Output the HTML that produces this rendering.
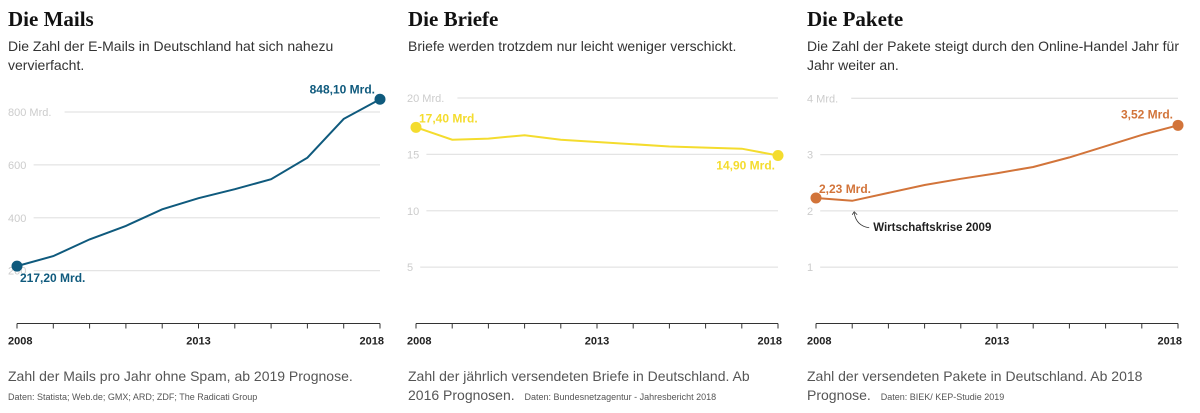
<!DOCTYPE html>
<html><head><meta charset="utf-8"><style>
body{margin:0;background:#fff;width:1200px;height:413px;overflow:hidden}
svg{display:block}
.t{font-family:"Liberation Serif",serif;font-weight:bold;font-size:21px;fill:#111}
.s{font-family:"Liberation Sans",sans-serif;font-size:14px;fill:#333}
.f{font-family:"Liberation Sans",sans-serif;font-size:14px;fill:#555}
.src{font-family:"Liberation Sans",sans-serif;font-size:9px;fill:#555}
.yl{font-family:"Liberation Sans",sans-serif;font-size:11px;fill:#ccc}
.xl{font-family:"Liberation Sans",sans-serif;font-size:11px;font-weight:bold;fill:#222}
.vl{font-family:"Liberation Sans",sans-serif;font-size:12px;font-weight:bold}
</style></head><body>
<svg id="c" width="1200" height="413">
<text class="t" x="8" y="26">Die Mails</text>
<text class="s" x="8" y="51">Die Zahl der E-Mails in Deutschland hat sich nahezu</text>
<text class="s" x="8" y="70">vervierfacht.</text>
<text class="t" x="408" y="26">Die Briefe</text>
<text class="s" x="408" y="51">Briefe werden trotzdem nur leicht weniger verschickt.</text>
<text class="t" x="807" y="26">Die Pakete</text>
<text class="s" x="807" y="51">Die Zahl der Pakete steigt durch den Online-Handel Jahr für</text>
<text class="s" x="807" y="70">Jahr weiter an.</text>
<text class="f" x="8" y="381">Zahl der Mails pro Jahr ohne Spam, ab 2019 Prognose.</text>
<text class="src" x="8" y="400">Daten: Statista; Web.de; GMX; ARD; ZDF; The Radicati Group</text>
<text class="f" x="408" y="381">Zahl der jährlich versendeten Briefe in Deutschland. Ab</text>
<text class="f" x="408" y="400">2016 Prognosen. <tspan class="src" dx="6">Daten: Bundesnetzagentur - Jahresbericht 2018</tspan></text>
<text class="f" x="807" y="381">Zahl der versendeten Pakete in Deutschland. Ab 2018</text>
<text class="f" x="807" y="400">Prognose. <tspan class="src" dx="6">Daten: BIEK/ KEP-Studie 2019</tspan></text>
</svg>
<script>
const years=[2008,2009,2010,2011,2012,2013,2014,2015,2016,2017,2018];
const xTickLabels=["2008","2013","2018"];
const mailsValues=[217.2,255,318,369,432,474,508,546,627,774,848.1];
const mailsTicks=[200,400,600,800];
const mailsTickLabels=["200","400","600","800 Mrd."];
const mailsLabels=["217,20 Mrd.","848,10 Mrd."];
const briefeValues=[17.4,16.3,16.4,16.7,16.3,16.1,15.9,15.7,15.6,15.5,14.9];
const briefeTicks=[5,10,15,20];
const briefeTickLabels=["5","10","15","20 Mrd."];
const briefeLabels=["17,40 Mrd.","14,90 Mrd."];
const paketeValues=[2.23,2.18,2.32,2.46,2.57,2.67,2.78,2.95,3.15,3.35,3.52];
const paketeTicks=[1,2,3,4];
const paketeTickLabels=["1","2","3","4 Mrd."];
const paketeLabels=["2,23 Mrd.","3,52 Mrd."];
const svg=document.getElementById('c');
const NS='http://www.w3.org/2000/svg';
function mk(tag,a,txt){const e=document.createElementNS(NS,tag);for(const k in a)e.setAttribute(k,a[k]);if(txt!==undefined)e.textContent=txt;svg.appendChild(e);return e;}
function panel(p,x0,x1,yTop,maxV,vals,ticks,tickLabels,labels,color,lblPos){
  const y0=323.5;
  const xs=i=>x0+(x1-x0)*(years[i]-years[0])/(years[years.length-1]-years[0]);
  const ys=v=>y0-(y0-yTop)*v/maxV;
  ticks.forEach((t,i)=>{
    const lab=tickLabels[i];const w=lab.length*6.2+4;
    const g=mk('line',{x1:x0-6+w,x2:x1,y1:ys(t),y2:ys(t),stroke:'#e4e4e4','stroke-width':1.3});
    
    
    const tl=mk('text',{x:x0-9,y:ys(t)+4,class:'yl'},lab);
    
    
  });
  const ax=mk('line',{x1:x0,x2:x1,y1:y0,y2:y0,stroke:'#333','stroke-width':1});
  
  
  years.forEach((yr,i)=>{
    const t=mk('line',{x1:xs(i),x2:xs(i),y1:y0,y2:y0+5,stroke:'#333','stroke-width':1});
    
    
    if(xTickLabels.includes(String(yr))){
      const a=i==0?'start':(i==years.length-1?'end':'middle');
      const tl=mk('text',{x:xs(i)+(i==0?-9:i==years.length-1?4:0),y:y0+21,class:'xl','text-anchor':a},String(yr));
      
      
    }
  });
  const d=vals.map((v,i)=>(i?'L':'M')+xs(i).toFixed(1)+','+ys(v).toFixed(1)).join(' ');
  const l=mk('path',{d:d,fill:'none',stroke:color,'stroke-width':2});
  
  
  [0,vals.length-1].forEach((i,k)=>{
    const c=mk('circle',{cx:xs(i),cy:ys(vals[i]),r:5.5,fill:color});
    
    
    const off=lblPos[k];
    const t=mk('text',{x:xs(i)+off[0],y:ys(vals[i])+off[1],class:'vl',fill:color,'text-anchor':k?'end':'start'},labels[k]);
    
    
  });
  return {xs,ys};
}
panel('mails',17,380,112,800,mailsValues,mailsTicks,mailsTickLabels,mailsLabels,'#0f5a7d',[[3,16],[-5,-6]]);
panel('briefe',416,778,98,20,briefeValues,briefeTicks,briefeTickLabels,briefeLabels,'#f4dc2e',[[3,-5],[-3,14]]);
const pk=panel('pakete',816,1178,98.3,4,paketeValues,paketeTicks,paketeTickLabels,paketeLabels,'#d2743a',[[3,-5],[-5,-7]]);
const ar=mk('path',{d:`M${pk.xs(1)+2},${pk.ys(paketeValues[1])+12} Q${pk.xs(1)+4},${pk.ys(paketeValues[1])+25} ${pk.xs(1)+17},${pk.ys(paketeValues[1])+27} M${pk.xs(1)},${pk.ys(paketeValues[1])+14} l2,-3 l3,3`,fill:'none',stroke:'#333','stroke-width':0.8});


const an=mk('text',{x:pk.xs(1)+21,y:pk.ys(paketeValues[1])+30,style:'font-family:"Liberation Sans",sans-serif;font-size:11.5px;font-weight:bold;fill:#222'},'Wirtschaftskrise 2009');


</script>
</body></html>
